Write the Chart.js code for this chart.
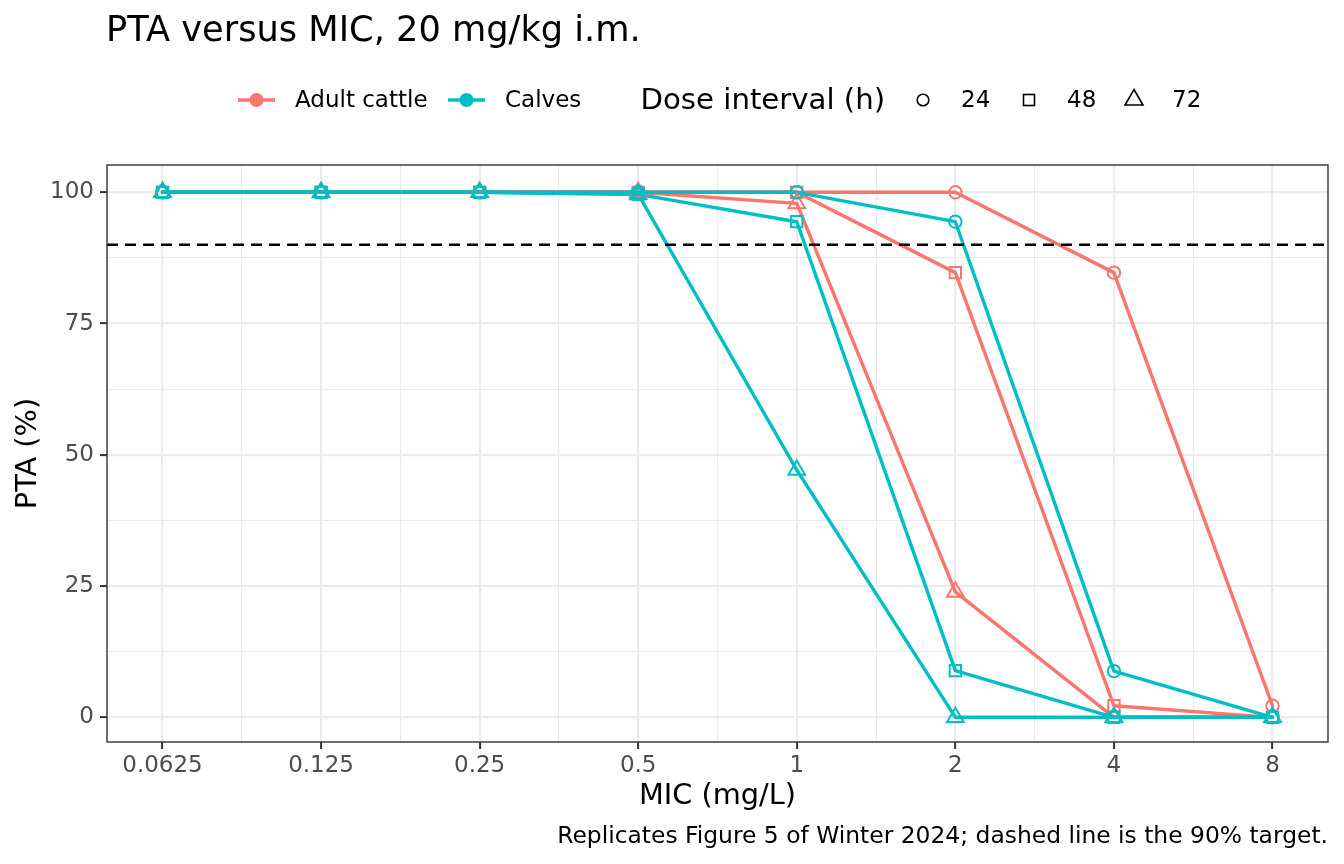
<!DOCTYPE html>
<html>
<head>
<meta charset="utf-8">
<script src="https://cdn.jsdelivr.net/npm/chart.js@4.4.1/dist/chart.umd.min.js"></script>
<style>
  html, body { margin: 0; padding: 0; background: #ffffff; }
  #wrap { position: relative; width: 1344px; height: 864px; overflow: hidden; font-family: "DejaVu Sans", sans-serif; }
  #chart { position: absolute; left: 0; top: 0; }
  .txt { position: absolute; white-space: nowrap; color: #000; }
</style>
</head>
<body>
<div id="wrap">
  <canvas id="chart" width="1344" height="864" style="width:1344px;height:864px"></canvas>
  <div class="txt" id="title" style="left:106px; top:8.3px; font-size:35.2px; line-height:41px;">PTA versus MIC, 20 mg/kg i.m.</div>
  <svg style="position:absolute; left:0; top:0;" width="1344" height="140">
    <line x1="238" y1="100" x2="275" y2="100" stroke="#F8766D" stroke-width="3.6"/>
    <circle cx="256.5" cy="100" r="7" fill="#F8766D"/>
    <line x1="448" y1="100" x2="485" y2="100" stroke="#00BFC4" stroke-width="3.6"/>
    <circle cx="466.5" cy="100" r="7" fill="#00BFC4"/>
    <circle cx="923" cy="100" r="5.8" fill="none" stroke="#000" stroke-width="1.6"/>
    <rect x="1023.5" y="94.5" width="11" height="11" fill="none" stroke="#000" stroke-width="1.6"/>
    <polygon points="1134,89.5 1143,105 1125,105" fill="none" stroke="#000" stroke-width="1.6"/>
  </svg>
  <div class="txt" style="left:295px; top:86.4px; font-size:23px; line-height:26.8px;">Adult cattle</div>
  <div class="txt" style="left:505px; top:86.4px; font-size:23px; line-height:26.8px;">Calves</div>
  <div class="txt" style="left:640.5px; top:82.2px; font-size:29.2px; line-height:34px;">Dose interval (h)</div>
  <div class="txt" style="left:961px; top:86.4px; font-size:23px; line-height:26.8px;">24</div>
  <div class="txt" style="left:1067px; top:86.4px; font-size:23px; line-height:26.8px;">48</div>
  <div class="txt" style="left:1172px; top:86.4px; font-size:23px; line-height:26.8px;">72</div>
  <div class="txt" id="caption" style="right:16px; top:821.6px; font-size:23.4px; line-height:27.2px; text-align:right;">Replicates Figure 5 of Winter 2024; dashed line is the 90% target.</div>
</div>
<script>
// ---- data ----
const mic = [0.0625, 0.125, 0.25, 0.5, 1, 2, 4, 8];
const micLabels = ['0.0625', '0.125', '0.25', '0.5', '1', '2', '4', '8'];
const yTickValues = [0, 25, 50, 75, 100];
const populations = ['Adult cattle', 'Calves'];
const intervals = ['24', '48', '72'];
const adult24 = [100, 100, 100, 100, 100, 100, 84.7, 2.2];
const adult48 = [100, 100, 100, 100, 100, 84.7, 2.2, 0];
const adult72 = [100, 100, 100, 100, 97.9, 23.9, 0, 0];
const calves24 = [100, 100, 100, 100, 100, 94.4, 8.8, 0];
const calves48 = [100, 100, 100, 99.6, 94.4, 8.9, 0, 0];
const calves72 = [100, 100, 100, 99.6, 47.1, 0, 0, 0];
const target = 90;

// ---- styles ----
const popColor = { 'Adult cattle': '#F8766D', 'Calves': '#00BFC4' };
const shapeStyle = {
  '24': { pointStyle: 'circle', radius: 6.2 },
  '48': { pointStyle: 'rect', radius: 8 },
  '72': { pointStyle: 'triangle', radius: 9.6 }
};
const FONT = '"DejaVu Sans", sans-serif';

const series = [
  { pop: 'Adult cattle', interval: '24', values: adult24 },
  { pop: 'Adult cattle', interval: '48', values: adult48 },
  { pop: 'Adult cattle', interval: '72', values: adult72 },
  { pop: 'Calves', interval: '24', values: calves24 },
  { pop: 'Calves', interval: '48', values: calves48 },
  { pop: 'Calves', interval: '72', values: calves72 }
];

const datasets = [];
// lines first (below), then points (above), calves above adults
series.forEach(s => {
  const popRank = s.pop === 'Calves' ? 0 : 1;
  datasets.push({
    label: s.pop + ' ' + s.interval + ' line',
    data: mic.map((m, i) => ({ x: m, y: s.values[i] })),
    borderColor: popColor[s.pop],
    borderWidth: 3.4,
    borderJoinStyle: 'round',
    borderCapStyle: 'round',
    pointRadius: 0,
    pointHoverRadius: 0,
    fill: false,
    tension: 0,
    order: 10 + popRank
  });
  datasets.push({
    label: s.pop + ' ' + s.interval + ' points',
    data: mic.map((m, i) => ({ x: m, y: s.values[i] })),
    showLine: false,
    borderColor: popColor[s.pop],
    pointBorderColor: popColor[s.pop],
    pointBackgroundColor: 'rgba(0,0,0,0)',
    pointBorderWidth: 2,
    pointStyle: shapeStyle[s.interval].pointStyle,
    pointRadius: shapeStyle[s.interval].radius,
    pointHoverRadius: shapeStyle[s.interval].radius,
    order: popRank
  });
});

const xMajor = mic.slice();
const xMinor = mic.slice(0, -1).map((m, i) => Math.sqrt(m * mic[i + 1]));
const yMinor = yTickValues.slice(0, -1).map((v, i) => (v + yTickValues[i + 1]) / 2);
const isMajorX = v => xMajor.some(m => Math.abs(Math.log2(v) - Math.log2(m)) < 1e-6);
const isMajorY = v => yTickValues.some(m => Math.abs(v - m) < 1e-6);

const panelPlugin = {
  id: 'panel',
  afterDatasetsDraw(chart) {
    const { ctx, chartArea: a, scales } = chart;
    const y = scales.y.getPixelForValue(target);
    ctx.save();
    ctx.beginPath();
    ctx.setLineDash([11, 7]);
    ctx.lineWidth = 2.4;
    ctx.strokeStyle = '#000000';
    ctx.moveTo(a.left, y);
    ctx.lineTo(a.right, y);
    ctx.stroke();
    ctx.restore();
  },
  afterDraw(chart) {
    const { ctx, chartArea: a } = chart;
    ctx.save();
    ctx.lineWidth = 1.4;
    ctx.strokeStyle = '#333333';
    ctx.strokeRect(a.left, a.top, a.right - a.left, a.bottom - a.top);
    ctx.restore();
  }
};

new Chart(document.getElementById('chart'), {
  type: 'line',
  data: { datasets },
  plugins: [panelPlugin],
  options: {
    responsive: false,
    animation: false,
    devicePixelRatio: 1,
    layout: { padding: { top: 165, right: 16, bottom: 0, left: 0 } },
    plugins: { legend: { display: false }, tooltip: { enabled: false } },
    scales: {
      x: {
        type: 'logarithmic',
        min: Math.min(...mic) / Math.pow(2, 0.35),
        max: Math.max(...mic) * Math.pow(2, 0.35),
        afterBuildTicks: scale => {
          scale.ticks = xMajor.concat(xMinor).sort((a, b) => a - b).map(v => ({ value: v }));
        },
        afterFit: scale => { scale.height = 122; },
        grid: {
          color: '#EBEBEB',
          lineWidth: c => (c.tick && isMajorX(c.tick.value)) ? 2.2 : 1.1,
          tickColor: c => (c.tick && isMajorX(c.tick.value)) ? '#333333' : 'rgba(0,0,0,0)',
          tickLength: 7,
          tickWidth: 2,
          drawTicks: true
        },
        border: { display: false },
        ticks: {
          autoSkip: false,
          maxRotation: 0,
          minRotation: 0,
          padding: 3,
          color: '#4D4D4D',
          font: { family: FONT, size: 23 },
          callback: v => {
            const i = xMajor.findIndex(m => Math.abs(Math.log2(v) - Math.log2(m)) < 1e-6);
            return i >= 0 ? micLabels[i] : '';
          }
        },
        title: {
          display: true,
          text: 'MIC (mg/L)',
          color: '#000000',
          font: { family: FONT, size: 28.8 },
          padding: { top: 0, bottom: 50 }
        }
      },
      y: {
        type: 'linear',
        min: -4.7,
        max: 105.2,
        afterBuildTicks: scale => {
          scale.ticks = yTickValues.concat(yMinor).sort((a, b) => a - b).map(v => ({ value: v }));
        },
        afterFit: scale => { scale.width = 107; },
        grid: {
          color: '#EBEBEB',
          lineWidth: c => (c.tick && isMajorY(c.tick.value)) ? 2.2 : 1.1,
          tickColor: c => (c.tick && isMajorY(c.tick.value)) ? '#333333' : 'rgba(0,0,0,0)',
          tickLength: 7,
          tickWidth: 2,
          drawTicks: true
        },
        border: { display: false },
        ticks: {
          autoSkip: false,
          padding: 6,
          color: '#4D4D4D',
          font: { family: FONT, size: 23 },
          callback: v => isMajorY(v) ? String(v) : ''
        },
        title: {
          display: true,
          text: 'PTA (%)',
          color: '#000000',
          font: { family: FONT, size: 28.8 },
          padding: { top: 11, bottom: 0 }
        }
      }
    }
  }
});
</script>
</body>
</html>
